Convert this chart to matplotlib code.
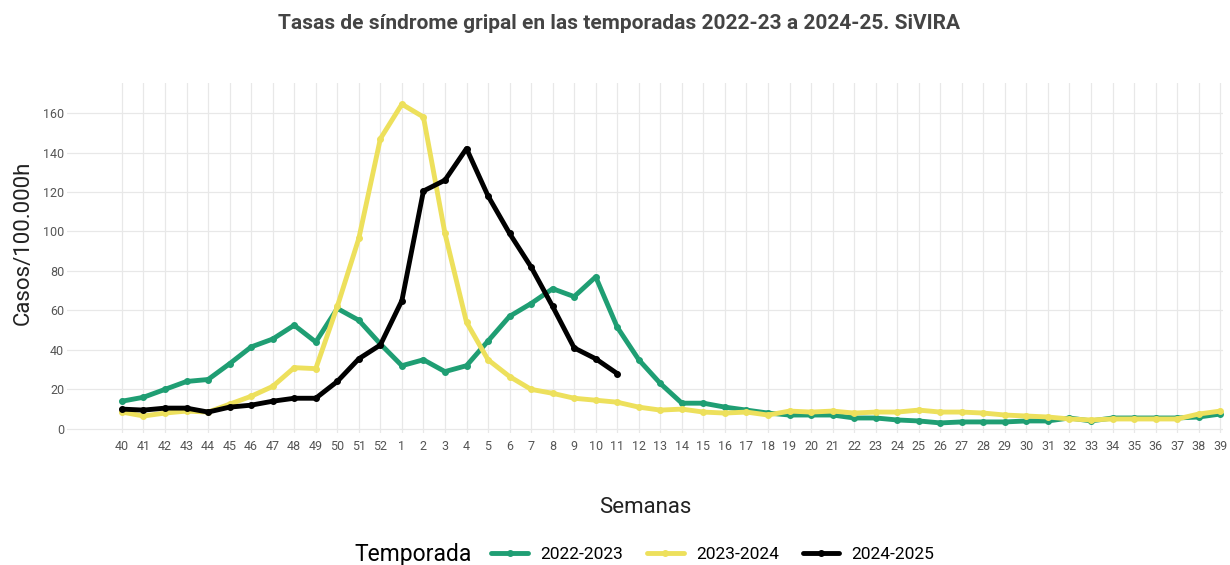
import matplotlib.pyplot as plt
from matplotlib.offsetbox import HPacker

plt.rcParams['font.family'] = ['Roboto', 'DejaVu Sans']

# Semanas epidemiológicas (temporada de la 40 a la 39)
semanas = [str(w) for w in list(range(40, 53)) + list(range(1, 40))]

t2022 = [14, 16, 20, 24, 25, 33, 41.5, 45.5, 52.5, 44, 61, 55, 43,
         32, 35, 29, 32, 44.5, 57, 63.5, 71, 67, 77, 51.5, 35, 23, 13, 13,
         11, 9.5, 8, 7, 7, 7, 5.5, 5.5, 4.5, 4, 3, 3.5, 3.5, 3.5, 4, 4,
         5.5, 4, 5.5, 5.5, 5.5, 5.5, 6, 7.5]
t2023 = [8.5, 6.5, 8, 9, 8.5, 12.5, 16.5, 21.5, 31, 30.5, 62, 96.5, 147,
         164.5, 158, 99, 54, 35, 26.5, 20, 18, 15.5, 14.5, 13.5, 11, 9.5, 10,
         8.5, 8, 8.5, 7, 9, 8.5, 9, 8, 8.5, 8.5, 9.5, 8.5, 8.5, 8, 7, 6.5, 6,
         5, 4.5, 5, 5, 5, 5, 7.5, 9]
t2024 = [10, 9.5, 10.5, 10.5, 8.5, 11, 12, 14, 15.5, 15.5, 24, 35.5, 42.5,
         65, 120.5, 126, 142, 118, 99, 82, 62, 41, 35.5, 28]

series = [('2022-2023', t2022, '#1f9e73'),
          ('2023-2024', t2023, '#ede05c'),
          ('2024-2025', t2024, '#000000')]

fig = plt.figure(figsize=(12.3, 5.65), dpi=100)
ax = fig.add_axes([0.0545, 0.234, 0.940, 0.619])

for name, vals, col in series:
    ax.plot(range(len(vals)), vals, color=col, lw=3.5, marker='o', ms=4,
            label=name, solid_capstyle='round')

ax.set_xlim(-2.55, 51.14)
ax.set_ylim(-2, 175.2)
ax.set_xticks(range(len(semanas)))
ax.set_xticklabels(semanas)
ax.set_yticks(range(0, 161, 20))
ax.tick_params(axis='both', length=0, labelsize=9, labelcolor='#555555')
ax.tick_params(axis='y', pad=2)
ax.tick_params(axis='x', pad=5)
ax.grid(True, color='#e8e8e8', lw=0.9)
ax.set_axisbelow(True)
for s in ax.spines.values():
    s.set_visible(False)

ax.set_ylabel('Casos/100.000h', fontsize=16, color='#222222')
ax.yaxis.set_label_coords(-0.029, 0.543)
ax.set_xlabel('Semanas', fontsize=16, color='#222222', labelpad=32)
fig.suptitle('Tasas de síndrome gripal en las temporadas 2022-23 a 2024-25. SiVIRA',
             x=0.503, y=0.975, fontsize=15, fontweight='bold', color='#444444')

leg = fig.legend(loc='lower center', bbox_to_anchor=(0.524, -0.03), ncol=3,
                 frameon=False, fontsize=12.5, title='Temporada',
                 title_fontsize=16.5, handlelength=2.1, columnspacing=1.4,
                 handletextpad=0.7)
# título de la leyenda a la izquierda de las entradas
box = leg._legend_box
box._children = [HPacker(children=box._children, align='center', pad=0, sep=14)]

fig.savefig('out.png', dpi=100)
